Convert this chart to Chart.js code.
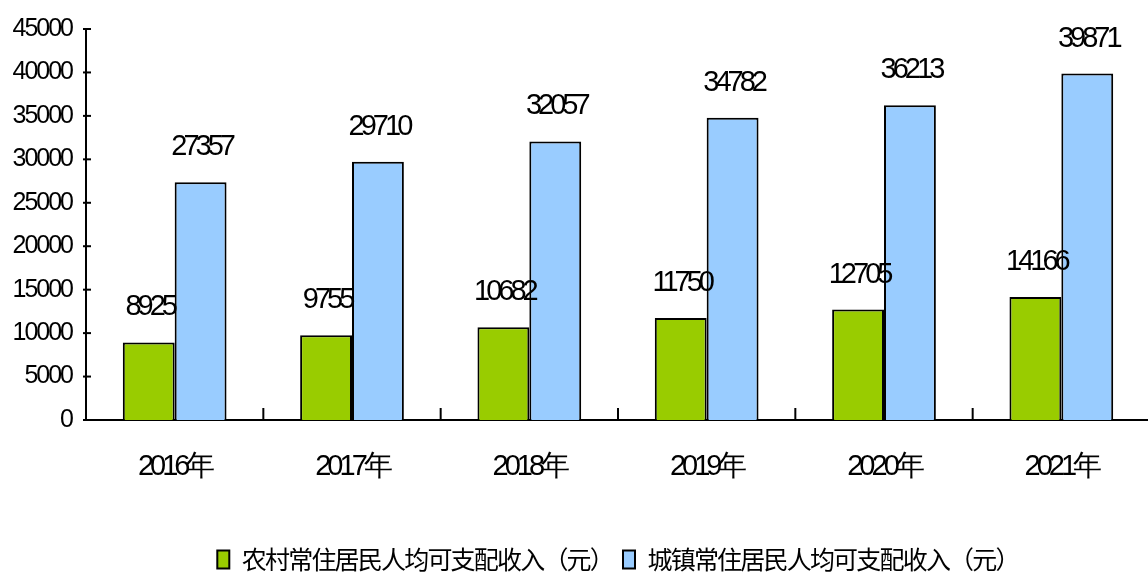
<!DOCTYPE html>
<html>
<head>
<meta charset="utf-8">
<script src="https://cdn.jsdelivr.net/npm/chart.js@4.4.1/dist/chart.umd.min.js"></script>
<style>
  html, body { margin: 0; padding: 0; overflow: hidden; background: #fff; }
  #wrap { width: 1152px; height: 574px; }
</style>
</head>
<body>
<div id="wrap"><canvas id="incomeChart" width="1152" height="574"></canvas></div>
<script>
const years = ['2016年', '2017年', '2018年', '2019年', '2020年', '2021年'];
const ruralIncome = [8925, 9755, 10682, 11750, 12705, 14166];
const urbanIncome = [27357, 29710, 32057, 34782, 36213, 39871];
const ruralLabel = '农村常住居民人均可支配收入（元）';
const urbanLabel = '城镇常住居民人均可支配收入（元）';

const numFont = '"Liberation Sans", Arial, sans-serif';

// ticks on the axes + value labels over the bars
const axisMarks = {
  id: 'axisMarks',
  afterDatasetsDraw(chart) {
    const { ctx, scales: { x, y }, chartArea } = chart;
    ctx.save();
    ctx.strokeStyle = '#000';
    ctx.lineWidth = 2;
    y.ticks.forEach((t, i) => {
      const py = y.getPixelForTick(i);
      ctx.beginPath();
      ctx.moveTo(chartArea.left - 3, py);
      ctx.lineTo(chartArea.left + 5, py);
      ctx.stroke();
    });
    for (let i = 1; i < years.length; i++) {
      const px = (x.getPixelForTick(i - 1) + x.getPixelForTick(i)) / 2;
      ctx.beginPath();
      ctx.moveTo(px, chartArea.bottom);
      ctx.lineTo(px, chartArea.bottom - 12);
      ctx.stroke();
    }
    ctx.font = '29px ' + numFont;
    ctx.letterSpacing = '-4px';
    ctx.fillStyle = '#000';
    ctx.textAlign = 'center';
    ctx.textBaseline = 'middle';
    chart.data.datasets.forEach((ds, di) => {
      chart.getDatasetMeta(di).data.forEach((bar, i) => {
        ctx.fillText(String(ds.data[i]), bar.x + 1, bar.y - 35);
      });
    });
    ctx.restore();
  }
};

// the original text is squeezed; canvas letterSpacing round a box's fit/draw
function squeeze(box, px) {
  ['fit', 'draw'].forEach((fn) => {
    const orig = box[fn];
    box[fn] = function (...args) {
      const c = this.ctx;
      const prev = c.letterSpacing;
      c.letterSpacing = px;
      const r = orig.apply(this, args);
      c.letterSpacing = prev;
      return r;
    };
  });
}

const ctx = document.getElementById('incomeChart').getContext('2d');
const chart = new Chart(ctx, {
  type: 'bar',
  data: {
    labels: years,
    datasets: [
      { label: ruralLabel, data: ruralIncome, backgroundColor: '#99CC00', borderColor: '#000', borderWidth: 2,
        borderSkipped: 'bottom', categoryPercentage: 0.585, barPercentage: 1 },
      { label: urbanLabel, data: urbanIncome, backgroundColor: '#99CCFF', borderColor: '#000', borderWidth: 2,
        borderSkipped: 'bottom', categoryPercentage: 0.585, barPercentage: 1 }
    ]
  },
  options: {
    responsive: false,
    animation: false,
    devicePixelRatio: 1,
    layout: { padding: { top: 29, right: 2, left: 0, bottom: -8 } },
    plugins: {
      tooltip: { enabled: false },
      legend: {
        position: 'bottom',
        fullSize: false,
        labels: {
          color: '#000',
          boxWidth: 12,
          boxHeight: 18,
          padding: 10,
          font: { family: '"Noto Sans CJK SC", sans-serif', size: 25 }
        }
      }
    },
    scales: {
      x: {
        grid: { display: false, drawTicks: false },
        border: { color: '#000', width: 2 },
        ticks: { color: '#000', padding: 30, font: { family: numFont, size: 29 } },
        afterFit: (s) => { s.height = 117; }
      },
      y: {
        min: 0,
        max: 45000,
        grid: { display: false, drawTicks: false },
        border: { color: '#000', width: 2 },
        ticks: { color: '#000', stepSize: 5000, padding: 14, font: { family: numFont, size: 25 },
          callback: (v) => String(v) },
        afterFit: (s) => { s.width = 86; }
      }
    }
  },
  plugins: [axisMarks]
});

squeeze(chart.scales.x, '-4px');
squeeze(chart.scales.y, '-2px');
squeeze(chart.legend, '-1.8px');
chart.update();
</script>
</body>
</html>
